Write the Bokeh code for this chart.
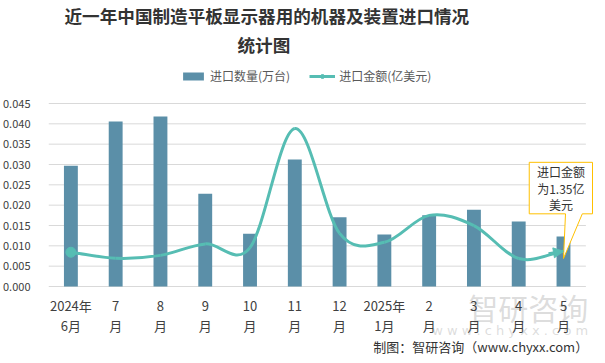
from bokeh.plotting import figure
from bokeh.models import (Range1d, FixedTicker, NumeralTickFormatter, Title,
                          Legend, LegendItem, Arrow, NormalHead)
from bokeh.core.properties import value
from bokeh.embed import file_html
from bokeh.resources import INLINE

# ---------------- data ----------------
months = ["2024年\n6月", "7\n月", "8\n月", "9\n月", "10\n月", "11\n月", "12\n月",
          "2025年\n1月", "2\n月", "3\n月", "4\n月", "5\n月"]
qty = [0.0297, 0.0406, 0.0418, 0.0228, 0.0130, 0.0312, 0.0170, 0.0128,
       0.0175, 0.0189, 0.0160, 0.0123]          # 进口数量(万台)
amount = [1.31, 1.08, 1.19, 1.63, 1.49, 6.04, 2.03, 1.69, 2.72, 2.33,
          1.07, 1.35]                             # 进口金额(亿美元)
y_ticks = [0.0, 0.005, 0.010, 0.015, 0.020, 0.025, 0.030, 0.035, 0.040, 0.045]
y2_max = 7

title1 = "近一年中国制造平板显示器用的机器及装置进口情况"
title2 = "统计图"
legend1 = "进口数量(万台)"
legend2 = "进口金额(亿美元)"
footer = "制图：智研咨询（www.chyxx.com）"
watermark1 = "智研咨询"
watermark2 = "w w w . c h y x x . c o m"

# ---------------- style / layout ----------------
BAR = "#5B8FA8"
LINE = "#56BDB3"
GRID = "#D9D9D9"
TXT = "#404040"
FONT = "Noto Sans CJK SC"

W, H = 597, 355
FRAME_TOP = 58            # canvas px where the plotting frame starts
AXIS_TOP_PX, AXIS_ZERO_PX = 103, 286   # canvas px of the top tick and of zero
n = len(months)
span_px = AXIS_ZERO_PX - AXIS_TOP_PX


def py(c):   # canvas px -> primary y units
    return (AXIS_ZERO_PX - c) * y_ticks[-1] / span_px


def py2(c):  # canvas px -> secondary y units
    return (AXIS_ZERO_PX - c) * y2_max / span_px


p = figure(width=W, height=H, output_backend="svg", toolbar_location=None,
           x_axis_location=None,
           x_range=Range1d(-0.5, n - 0.5 + 0.17),
           y_range=Range1d(py(H), py(FRAME_TOP)),
           min_border_left=42, min_border_right=4,
           min_border_top=FRAME_TOP, min_border_bottom=0)
p.extra_y_ranges = {"y2": Range1d(py2(H), py2(FRAME_TOP))}
p.outline_line_color = None
p.grid.visible = False
p.background_fill_color = "white"
p.border_fill_color = "white"

ya = p.yaxis[0]
ya.ticker = FixedTicker(ticks=y_ticks)
ya.formatter = NumeralTickFormatter(format="0.000")
ya.axis_line_color = None
ya.major_tick_line_color = None
ya.minor_tick_line_color = None
ya.major_label_text_font = FONT
ya.major_label_text_font_size = "11px"
ya.major_label_text_color = TXT
ya.major_label_standoff = 12

# grid lines across the category span
p.segment(x0=-0.5, x1=n - 0.5, y0=y_ticks, y1=y_ticks, line_color=GRID, line_width=1)

# watermark
p.text(x=[n - 0.5 + 0.05], y=[py(306)], text=[watermark1], text_font=value(FONT),
       text_font_size="30px", text_color="#BFBFBF", text_alpha=0.55,
       text_align="right", text_baseline="middle")
p.text(x=[n - 0.5 + 0.05], y=[py(330)], text=[watermark2], text_font=value("DejaVu Sans"),
       text_font_size="13px", text_color="#BFBFBF", text_alpha=0.55,
       text_align="right", text_baseline="middle")

# category labels (two rows)
row1 = [m.split("\n")[0] for m in months]
row2 = [m.split("\n")[1] for m in months]
for row, c in ((row1, 305), (row2, 325)):
    p.text(x=list(range(n)), y=py(c), text=row, text_font=value(FONT),
           text_font_size="13px", text_color=TXT, text_align="center",
           text_baseline="middle")

# footer
p.text(x=[n - 0.5 + 0.05], y=[py(346)], text=[footer], text_font=value(FONT),
       text_font_size="13px", text_color="#333333", text_align="right",
       text_baseline="middle")

# bars
bars = p.vbar(x=list(range(n)), top=qty, width=0.31, fill_color=BAR, line_color=None)

# smoothed line (Catmull-Rom as cubic Bezier)
def tang(i):
    a = amount[max(i - 1, 0)]
    b = amount[min(i + 1, n - 1)]
    span = min(i + 1, n - 1) - max(i - 1, 0)
    return (b - a) / span

x0, y0, x1, y1, cx0, cy0, cx1, cy1 = [], [], [], [], [], [], [], []
for i in range(n - 1):
    x0.append(i); y0.append(amount[i])
    x1.append(i + 1); y1.append(amount[i + 1])
    cx0.append(i + 1 / 3); cy0.append(amount[i] + tang(i) / 3)
    cx1.append(i + 1 - 1 / 3); cy1.append(amount[i + 1] - tang(i + 1) / 3)
p.bezier(x0=x0, y0=y0, x1=x1, y1=y1, cx0=cx0, cy0=cy0, cx1=cx1, cy1=cy1,
         line_color=LINE, line_width=3, y_range_name="y2")
start_dot = p.scatter(x=[0], y=[amount[0]], size=10, fill_color=LINE, line_color=LINE,
                      y_range_name="y2")
p.add_layout(Arrow(end=NormalHead(size=10, fill_color=LINE, line_color=LINE),
                   x_start=cx1[-1], y_start=cy1[-1], x_end=n - 1, y_end=amount[-1],
                   line_color=LINE, line_width=3, y_range_name="y2"))
# hidden straight line, used only for the legend swatch
leg_line = p.line(x=list(range(n)), y=amount, line_color=LINE, line_width=3,
                  y_range_name="y2", visible=False)

# callout for last point
lx = n - 1
L, R = lx - 0.765, lx + 0.648
T, B = amount[-1] + 3.40, amount[-1] + 1.43
tip_y = amount[-1] - 0.28
p.patch(x=[L, R, R, lx + 0.42, lx, lx + 0.045, L, L],
        y=[T, T, B, B, tip_y, B, B, T],
        fill_color="white", line_color="#FFC000", line_width=1, y_range_name="y2")
p.text(x=[(L + R) / 2], y=[(T + B) / 2],
       text=[f"进口金额\n为{amount[-1]}亿\n美元"],
       text_font=value(FONT), text_font_size="12px", text_color="#333333",
       text_align="center", text_baseline="middle", text_line_height=0.95,
       y_range_name="y2")

# legend inside the top strip of the frame
legend = Legend(items=[LegendItem(label=legend1, renderers=[bars]),
                       LegendItem(label=legend2, renderers=[leg_line, start_dot])],
                orientation="horizontal",
                location=(132, H - 84),
                label_text_font=FONT, label_text_font_size="12px",
                label_text_color="#595959", glyph_width=26, glyph_height=10,
                label_standoff=4, spacing=19, padding=0, margin=0,
                border_line_color=None, background_fill_alpha=0,
                inactive_fill_alpha=0, click_policy="none")
p.add_layout(legend)

# titles
p.add_layout(Title(text=title2, align="left", offset=189, text_font=FONT,
                   text_font_size="17.6px", text_font_style="bold",
                   text_color="#333333", standoff=4), "above")
p.add_layout(Title(text=title1, align="left", offset=16, text_font=FONT,
                   text_font_size="17.6px", text_font_style="bold",
                   text_color="#333333", standoff=0), "above")

open("out.html", "w").write(file_html(p, INLINE))
